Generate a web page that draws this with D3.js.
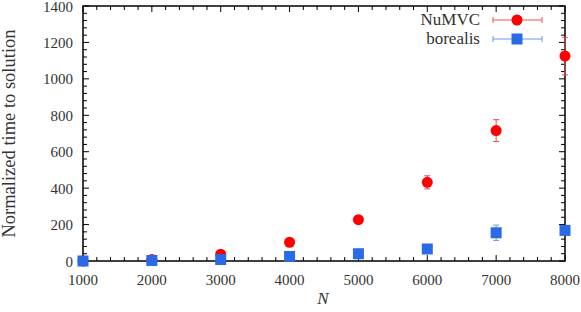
<!DOCTYPE html>
<html>
<head>
<meta charset="utf-8">
<script src="https://cdn.jsdelivr.net/npm/d3@7"></script>
<style>
body { margin: 0; background: #fff; }
text { font-family: "Liberation Serif", serif; fill: #333; }
</style>
</head>
<body>
<div id="chart"></div>
<script>
var sizes = [1000, 2000, 3000, 4000, 5000, 6000, 7000, 8000];
var numvc = [0, 8, 37, 103, 227, 432, 716, 1125];
var numvcErr = [0, 3, 5, 8, 10, 36, 60, 103];
var borealis = [0, 3, 8, 25, 40, 66, 155, 168];
var borealisErr = [0, 2, 3, 5, 6, 8, 42, 20];
var xTicks = [1000, 2000, 3000, 4000, 5000, 6000, 7000, 8000];
var yTicks = [0, 200, 400, 600, 800, 1000, 1200, 1400];

var W = 581, H = 312;
var margin = {top: 6, right: 16, bottom: 51, left: 83};
var width = W - margin.left - margin.right, height = H - margin.top - margin.bottom;

var svg = d3.select("#chart").append("svg").attr("width", W).attr("height", H);
var g = svg.append("g").attr("transform", "translate(" + margin.left + "," + margin.top + ")");

var x = d3.scaleLinear().domain([1000, 8000]).range([0, width]);
var y = d3.scaleLinear().domain([0, 1400]).range([height, 0]);

// minor + major ticks, gnuplot style (inward, mirrored)
var xMinor = d3.range(1000, 8001, 200), yMinor = d3.range(0, 1401, 40);
var ticks = g.append("g").attr("stroke", "#000").attr("stroke-width", 1);
xMinor.forEach(function(v) {
  var len = (v % 1000 == 0) ? 6 : 4;
  ticks.append("line").attr("x1", x(v)).attr("x2", x(v)).attr("y1", height).attr("y2", height - len);
  ticks.append("line").attr("x1", x(v)).attr("x2", x(v)).attr("y1", 0).attr("y2", len);
});
yMinor.forEach(function(v) {
  var len = (v % 200 == 0) ? 6 : 4;
  ticks.append("line").attr("y1", y(v)).attr("y2", y(v)).attr("x1", 0).attr("x2", len);
  ticks.append("line").attr("y1", y(v)).attr("y2", y(v)).attr("x1", width).attr("x2", width - len);
});

g.append("rect").attr("width", width).attr("height", height).attr("fill", "none").attr("stroke", "#000").attr("stroke-width", 1.5);

g.selectAll(".xl").data(xTicks).enter().append("text").attr("x", function(d) { return x(d); }).attr("y", height + 24)
  .attr("text-anchor", "middle").style("font-size", "15px").text(function(d) { return d; });
g.selectAll(".yl").data(yTicks).enter().append("text").attr("x", -10).attr("y", function(d) { return y(d) + 5.5; })
  .attr("text-anchor", "end").style("font-size", "15px").text(function(d) { return d; });

svg.append("text").attr("x", 323).attr("y", 304).attr("text-anchor", "middle").style("font-size", "17px").style("font-style", "italic").text("N");
svg.append("text").attr("transform", "translate(15," + (margin.top + height / 2) + ") rotate(-90)").attr("text-anchor", "middle")
  .style("font-size", "18.5px").text("Normalized time to solution");

function errbars(vals, errs, color) {
  var eg = g.append("g").attr("stroke", color).attr("stroke-width", 1);
  sizes.forEach(function(n, i) {
    if (errs[i] < 1) return;
    var cx = x(n), top = y(vals[i] + errs[i]), bot = y(vals[i] - errs[i]);
    eg.append("line").attr("x1", cx).attr("x2", cx).attr("y1", top).attr("y2", bot);
    eg.append("line").attr("x1", cx - 3).attr("x2", cx + 3).attr("y1", top).attr("y2", top);
    eg.append("line").attr("x1", cx - 3).attr("x2", cx + 3).attr("y1", bot).attr("y2", bot);
  });
}

var red = "#ff0000", blue = "#2a6ae6";
errbars(numvc, numvcErr, "#f05050");
g.selectAll(".c").data(sizes).enter().append("circle").attr("cx", function(d) { return x(d); })
  .attr("cy", function(d, i) { return y(numvc[i]); }).attr("r", 5.5).attr("fill", red);
errbars(borealis, borealisErr, "#6a96ec");
g.selectAll(".s").data(sizes).enter().append("rect").attr("x", function(d) { return x(d) - 5.5; })
  .attr("y", function(d, i) { return y(borealis[i]) - 5.5; }).attr("width", 11).attr("height", 11).attr("fill", blue);

// legend
var legend = [{name: "NuMVC", color: red, err: "#f05050", shape: "circle"}, {name: "borealis", color: blue, err: "#6a96ec", shape: "square"}];
legend.forEach(function(l, i) {
  var ly = 20 + i * 19;
  svg.append("text").attr("x", 480).attr("y", ly + 5).attr("text-anchor", "end").style("font-size", "17px").text(l.name);
  var lg = svg.append("g").attr("stroke", l.err).attr("stroke-width", 1);
  lg.append("line").attr("x1", 493).attr("x2", 542).attr("y1", ly).attr("y2", ly);
  lg.append("line").attr("x1", 493).attr("x2", 493).attr("y1", ly - 3).attr("y2", ly + 3);
  lg.append("line").attr("x1", 542).attr("x2", 542).attr("y1", ly - 3).attr("y2", ly + 3);
  if (l.shape == "circle") svg.append("circle").attr("cx", 517).attr("cy", ly).attr("r", 5.5).attr("fill", l.color);
  else svg.append("rect").attr("x", 511.5).attr("y", ly - 5.5).attr("width", 11).attr("height", 11).attr("fill", l.color);
});
</script>
</body>
</html>
